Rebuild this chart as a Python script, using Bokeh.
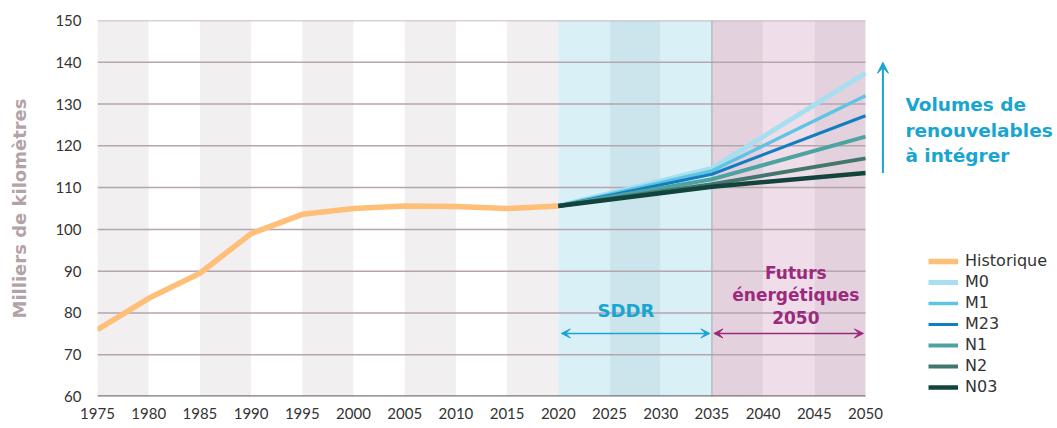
from bokeh.plotting import figure
from bokeh.models import FixedTicker, Arrow, VeeHead, Legend, LegendItem
from bokeh.core.properties import value
from bokeh.embed import file_html
from bokeh.resources import INLINE

# ---- data ----
hist_years = [1975, 1980, 1985, 1990, 1995, 2000, 2005, 2010, 2015, 2020]
hist_vals = [76, 83.5, 89.5, 99, 103.6, 105, 105.6, 105.5, 105, 105.6]

scen_years = [2020, 2035, 2050]
scenarios = ["M0", "M1", "M23", "N1", "N2", "N03"]
scen_vals = {
    "M0": [105.6, 114.6, 137.4],
    "M1": [105.6, 114.0, 132.0],
    "M23": [105.6, 113.2, 127.2],
    "N1": [105.6, 112.0, 122.2],
    "N2": [105.6, 110.8, 117.0],
    "N03": [105.6, 110.2, 113.5],
}
scen_colors = ["#a7dff0", "#5ec4e3", "#127dc0", "#4da3a1", "#41776f", "#12443d"]
scen_widths = [5, 3.5, 3, 4, 4, 4.5]

x_ticks = list(range(1975, 2051, 5))
y_ticks = list(range(60, 151, 10))

band_left = list(range(1975, 2050, 5))
band_colors = ["#f1eff0", "#ffffff", "#f1eff0", "#ffffff", "#f1eff0", "#ffffff",
               "#f1eff0", "#ffffff", "#f1eff0",
               "#d9f0f6", "#cce4ec", "#d9f0f6", "#e3d1dd", "#efdee9", "#e3d1dd"]

CYAN = "#18a5d1"
MAGENTA = "#9b2a7d"

FW = 959
p = figure(frame_width=FW, frame_height=376,
           x_range=(1975, 1975 + FW / 10.24), y_range=(60, 150),
           output_backend="svg", toolbar_location=None,
           min_border_left=97, min_border_right=0, min_border_top=20, min_border_bottom=22)
p.outline_line_color = None
p.xgrid.visible = False
p.ygrid.visible = False
p.background_fill_color = "white"
p.border_fill_color = "white"

# bands
p.quad(left=band_left, right=[b + 5 for b in band_left], bottom=60, top=150,
       fill_color=band_colors, line_color=None)

# grid lines
p.segment(x0=1975, x1=2050, y0=y_ticks[1:], y1=y_ticks[1:], line_color="#b5a5ad", line_width=1.5)
p.segment(x0=[2035], x1=[2035], y0=[60], y1=[150], line_color="#a8a6b4", line_width=1)
p.segment(x0=[1975], x1=[2050], y0=[60], y1=[60], line_color="#7a7778", line_width=2.5)

# lines
items = []
r = p.line(hist_years, hist_vals, line_color="#ffbf78", line_width=5.5, line_join="round")
items.append(LegendItem(label="Historique", renderers=[r]))
for name, col, w in zip(scenarios, scen_colors, scen_widths):
    r = p.line(scen_years, scen_vals[name], line_color=col, line_width=w)
    items.append(LegendItem(label=name, renderers=[r]))

legend = Legend(items=items, location=(831, 0), label_text_font="DejaVu Sans",
                label_text_font_size="16px", label_text_color="#333333",
                glyph_width=30, glyph_height=14, label_height=14, spacing=2,
                label_standoff=7, padding=0, margin=0,
                background_fill_alpha=0, border_line_color=None)
p.add_layout(legend)

# arrows
p.add_layout(Arrow(x_start=2020.3, y_start=75.1, x_end=2034.8, y_end=75.1, line_color=CYAN, line_width=1.5,
                   start=VeeHead(size=9, line_color=CYAN, fill_color=CYAN, line_width=1),
                   end=VeeHead(size=9, line_color=CYAN, fill_color=CYAN, line_width=1)))
p.add_layout(Arrow(x_start=2035.2, y_start=75.1, x_end=2049.8, y_end=75.1, line_color=MAGENTA, line_width=1.5,
                   start=VeeHead(size=9, line_color=MAGENTA, fill_color=MAGENTA, line_width=1),
                   end=VeeHead(size=9, line_color=MAGENTA, fill_color=MAGENTA, line_width=1)))
p.add_layout(Arrow(x_start=2051.7, y_start=113.5, x_end=2051.7, y_end=140, line_color=CYAN, line_width=2,
                   end=VeeHead(size=11, line_color=CYAN, fill_color=CYAN, line_width=1)))

# texts
p.text(x=[2026.6], y=[80.5], text=["SDDR"], text_color=CYAN, text_font=value("DejaVu Sans"),
       text_font_style="bold", text_font_size="18px", text_align="center", text_baseline="middle")
p.text(x=[2043.2] * 3, y=[89.5, 84.2, 78.9], text=["Futurs", "énergétiques", "2050"],
       text_color=MAGENTA, text_font=value("DejaVu Sans"), text_font_style="bold",
       text_font_size="17px", text_align="center", text_baseline="middle")
p.text(x=[2053.9] * 3, y=[129.9, 123.7, 117.7], text=["Volumes de", "renouvelables", "à intégrer"],
       text_color=CYAN, text_font=value("DejaVu Sans"), text_font_style="bold",
       text_font_size="18.5px", text_align="left", text_baseline="middle")

# axes
p.xaxis.ticker = FixedTicker(ticks=x_ticks)
p.yaxis.ticker = FixedTicker(ticks=y_ticks)
for ax in (p.xaxis[0], p.yaxis[0]):
    ax.axis_line_color = None
    ax.major_tick_line_color = None
    ax.minor_tick_line_color = None
    ax.major_label_text_font = "Lato"
    ax.major_label_text_font_size = "15px"
    ax.major_label_text_color = "#333333"
p.xaxis.major_label_standoff = 5
p.yaxis.major_label_standoff = 10
p.yaxis.axis_label = "Milliers de kilomètres"
p.yaxis.axis_label_text_font = "DejaVu Sans"
p.yaxis.axis_label_text_font_style = "bold"
p.yaxis.axis_label_text_font_size = "18px"
p.yaxis.axis_label_text_color = "#b3a3a9"
p.yaxis.axis_label_standoff = 22

open("out.html", "w").write(file_html(p, INLINE))
